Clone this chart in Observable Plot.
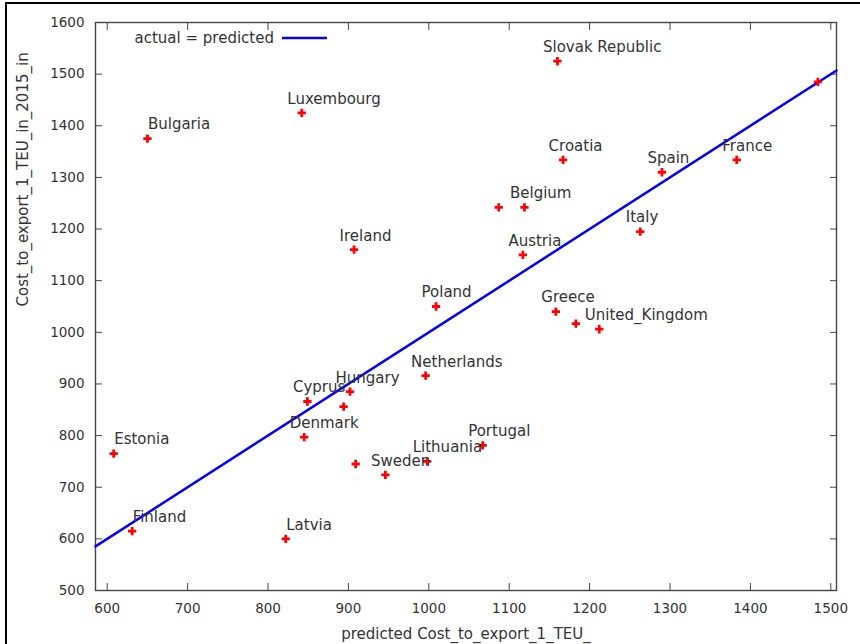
<!DOCTYPE html>
<html><head><meta charset="utf-8">
<script src="https://cdn.jsdelivr.net/npm/d3@7"></script>
<script src="https://cdn.jsdelivr.net/npm/@observablehq/plot@0.6"></script>
<style>
body{margin:0;background:#fff;}
#wrap{position:relative;width:860px;height:644px;overflow:hidden;background:#fff;}
#chart{position:absolute;left:0;top:0;}
#border{position:absolute;left:5px;top:2px;width:900px;height:700px;border-left:2px solid #000;border-top:2px solid #000;pointer-events:none;}
</style></head><body>
<div id="wrap"><div id="chart"></div><div id="border"></div></div>
<script>
const countries = ["Slovak Republic","Luxembourg","Bulgaria","Croatia","Spain","France","Belgium","","Ireland","Italy","Austria","Poland","Greece","United_Kingdom","","Netherlands","Hungary","","Cyprus","Denmark","Estonia","Lithuania","Portugal","Sweden","","Finland","Latvia",""];
const predicted = [1160,842,650,1167,1290,1383,1119,1087,907,1263,1117,1009,1158,1212,1183,996,902,894,849,845,608,998,1067,946,909,631,822,1484];
const actual    = [1525,1425,1375,1334,1310,1334,1242,1242,1160,1195,1150,1050,1040,1006,1017,916,885,856,866,797,765,750,781,724,745,615,600,1485];
const xTicks = [600,700,800,900,1000,1100,1200,1300,1400,1500];
const yTicks = [500,600,700,800,900,1000,1100,1200,1300,1400,1500,1600];
const xDomain = [585.4, 1507.1];
const yDomain = [500, 1600];
const legendLabel = "actual = predicted";
const xLabel = "predicted Cost_to_export_1_TEU_";
const yLabel = "Cost_to_export_1_TEU_in_2015_in";

const data = countries.map((c, i) => ({country: c, x: predicted[i], y: actual[i]}));
const ink = "#333";
const plain = d => String(d);
const none = () => "";

const svg = Plot.plot({
  width: 860, height: 644,
  marginLeft: 95, marginRight: 24, marginTop: 22, marginBottom: 54,
  style: {fontFamily: "DejaVu Sans", fontSize: "15px", color: ink, background: "transparent"},
  x: {domain: xDomain},
  y: {domain: yDomain},
  marks: [
    Plot.frame({stroke: "#444", strokeWidth: 1.4}),
    // inward tick marks on all four sides
    Plot.axisX(xTicks, {anchor: "bottom", tickSize: 7, dy: -7, tickFormat: none, label: null, stroke: "#444"}),
    Plot.axisX(xTicks, {anchor: "top", tickSize: 7, dy: 7, tickFormat: none, label: null, stroke: "#444"}),
    Plot.axisY(yTicks, {anchor: "left", tickSize: 7, dx: 7, tickFormat: none, label: null, stroke: "#444"}),
    Plot.axisY(yTicks, {anchor: "right", tickSize: 7, dx: -7, tickFormat: none, label: null, stroke: "#444"}),
    // tick labels
    Plot.axisX(xTicks, {anchor: "bottom", tickSize: 0, tickPadding: 13, fontSize: 13.5, tickFormat: plain, label: null}),
    Plot.axisY(yTicks, {anchor: "left", tickSize: 0, tickPadding: 11, fontSize: 13.5, tickFormat: plain, label: null}),
    Plot.text([xLabel], {frameAnchor: "bottom", dy: 48, lineAnchor: "bottom", fill: ink}),
    Plot.text([yLabel], {frameAnchor: "left", dx: -72.5, rotate: -90, lineAnchor: "middle", fill: ink}),
    Plot.line(xDomain, {x: d => d, y: d => d, stroke: "#0000ff", strokeWidth: 2.5}),
    Plot.dot(data, {x: "x", y: "y", symbol: "cross", r: 3.5, fill: "#ff0000", stroke: null}),
    Plot.text(data.filter(d => d.x < 830), {x: "x", y: "y", text: "country", textAnchor: "start", dx: 0.5, dy: -14, lineAnchor: "middle", fill: ink}),
    Plot.text(data.filter(d => d.x >= 830), {x: "x", y: "y", text: "country", textAnchor: "start", dx: -14.5, dy: -14, lineAnchor: "middle", fill: ink}),
    Plot.text([legendLabel], {frameAnchor: "top-left", dx: 39, dy: 15.5, textAnchor: "start", lineAnchor: "middle", fill: ink})
  ]
});
d3.select(svg).append("line")
  .attr("x1", 282).attr("x2", 327).attr("y1", 38).attr("y2", 38)
  .attr("stroke", "#0000ff").attr("stroke-width", 2.5);
document.getElementById("chart").appendChild(svg);
</script>
</body></html>
